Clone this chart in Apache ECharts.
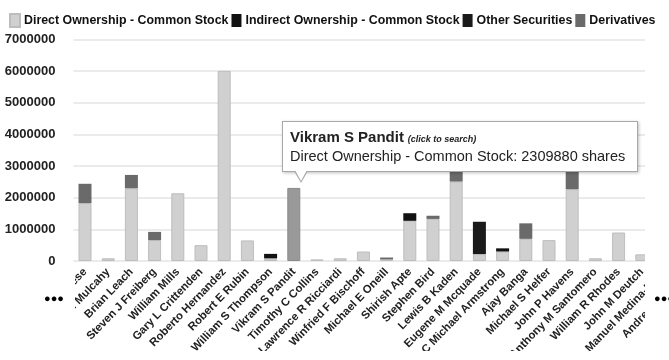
<!DOCTYPE html>
<html>
<head>
<meta charset="utf-8">
<script src="https://cdn.jsdelivr.net/npm/echarts@6/dist/echarts.min.js"></script>
<style>
  html, body { margin: 0; padding: 0; background: #fff; }
  #main { width: 669px; height: 360px; }
</style>
</head>
<body>
<div id="main"></div>
<script>
const insiders = ['James A Forese', 'Anne M Mulcahy', 'Brian Leach', 'Steven J Freiberg', 'William Mills',
    'Gary L Crittenden', 'Roberto Hernandez', 'Robert E Rubin', 'William S Thompson', 'Vikram S Pandit',
    'Timothy C Collins', 'Lawrence R Ricciardi', 'Winfried F Bischoff', 'Michael E Oneill', 'Shirish Apte',
    'Stephen Bird', 'Lewis B Kaden', 'Eugene M Mcquade', 'C Michael Armstrong', 'Ajay Banga',
    'Michael S Helfer', 'John P Havens', 'Anthony M Santomero', 'William R Rhodes', 'John M Deutch',
    'Manuel Medina-Mora', 'Andrew N Liveris'];
const directShares = [1830000, 85000, 2300000, 660000, 2140000, 500000, 6010000, 650000, 85000, 2309880,
    50000, 85000, 300000, 50000, 1270000, 1330000, 2510000, 220000, 300000, 700000,
    660000, 2270000, 85000, 900000, 210000, null, null];
const indirectShares = [0, 0, 0, 0, 0, 0, 0, 0, 140000, 0,
    0, 0, 0, 0, 240000, 0, 0, 0, 100000, 0,
    0, 0, 0, 0, 0, null, null];
const otherShares = [0, 0, 0, 0, 0, 0, 0, 0, 0, 0,
    0, 0, 0, 0, 0, 0, 0, 1020000, 0, 0,
    0, 0, 0, 0, 0, null, null];
const derivativeShares = [610000, 0, 420000, 260000, 0, 0, 0, 0, 0, 0,
    0, 0, 0, 60000, 0, 100000, 400000, 0, 0, 490000,
    0, 650000, 0, 0, 0, null, null];
const yTicks = [0, 1000000, 2000000, 3000000, 4000000, 5000000, 6000000, 7000000];
const hovered = 9;

const chart = echarts.init(document.getElementById('main'));
const font = 'Liberation Sans, Arial, sans-serif';

function barSeries(name, data, color, border, bw) {
    return {
        name: name,
        type: 'bar',
        stack: 'shares',
        barWidth: 13,
        data: data,
        itemStyle: { color: color, borderColor: border, borderWidth: bw },
        emphasis: { focus: 'none', itemStyle: { color: '#999', borderColor: '#8a8a8a' } }
    };
}

chart.setOption({
    animation: false,
    textStyle: { fontFamily: font },
    legend: {
        left: 4,
        top: 8,
        width: 700,
        itemWidth: 10,
        itemHeight: 13,
        itemGap: 3,
        icon: 'rect',
        selectedMode: false,
        textStyle: { fontFamily: font, fontWeight: 'bold', fontSize: 12.4, color: '#111', padding: [0, 0, 0, -1] }
    },
    grid: { left: 73.4, top: 39.5, width: 626.4, height: 221.5, outerBoundsMode: 'none', containLabel: false },
    tooltip: {
        trigger: 'item',
        transitionDuration: 0,
        alwaysShowContent: true,
        backgroundColor: '#fff',
        borderColor: '#a8a8a8',
        borderWidth: 1,
        padding: [6, 12, 6, 7],
        extraCssText: 'border-radius:0;box-shadow:1px 1px 3px rgba(0,0,0,0.25);overflow:visible;',
        formatter: function(p) {
            return '<div style="font-family:' + font + ';color:#222;line-height:17px;white-space:nowrap">' +
                '<span style="font-weight:bold;font-size:15px">' + p.name + '</span> ' +
                '<span style="font-weight:bold;font-style:italic;font-size:9px">(click to search)</span><br>' +
                '<span style="font-size:14.5px">' + p.seriesName + ': ' + p.value + ' shares</span></div>' +
                '<div style="position:absolute;left:11px;bottom:-12px;width:0;height:0;border-left:7px solid transparent;border-right:7px solid transparent;border-top:12px solid #a8a8a8"></div>' +
                '<div style="position:absolute;left:12px;bottom:-10px;width:0;height:0;border-left:6px solid transparent;border-right:6px solid transparent;border-top:11px solid #fff"></div>';
        },
        position: function(point, params, dom, rect, size) {
            const top = Math.min(rect.y, rect.y + rect.height);
            return [rect.x + rect.width / 2 - 12, top - 16 - size.contentSize[1]];
        }
    },
    xAxis: {
        type: 'category',
        data: insiders,
        axisLine: { show: false },
        axisTick: { show: false },
        axisLabel: {
            interval: 0,
            rotate: 46,
            margin: 9,
            hideOverlap: false,
            fontFamily: font,
            fontWeight: 'bold',
            fontSize: 11.3,
            color: '#222'
        }
    },
    yAxis: {
        type: 'value',
        min: 0,
        max: 7000000,
        interval: 1000000,
        axisLine: { show: false },
        axisTick: { show: false },
        splitLine: { lineStyle: { color: '#e4e4e4', width: 1.5 } },
        axisLabel: {
            margin: 18,
            fontFamily: font,
            fontWeight: 'bold',
            fontSize: 13,
            color: '#222',
            formatter: function(v) {
                return yTicks.indexOf(v) >= 0 ? String(v) : '';
            }
        }
    },
    series: [
        barSeries('Direct Ownership - Common Stock', directShares, '#d0d0d0', '#bdbdbd', 1),
        barSeries('Indirect Ownership - Common Stock', indirectShares, '#111', '#111', 0),
        barSeries('Other Securities', otherShares, '#1a1a1a', '#1a1a1a', 0),
        barSeries('Derivatives', derivativeShares, '#6a6a6a', '#606060', 0)
    ],
    graphic: [
        // scroll viewport masks
        { type: 'rect', z: 50, shape: { x: 645, y: 34, width: 40, height: 330 }, style: { fill: '#fff' } },
        { type: 'rect', z: 50, shape: { x: 0, y: 268, width: 75, height: 100 }, style: { fill: '#fff' } },
        { type: 'rect', z: 50, shape: { x: 0, y: 351, width: 669, height: 20 }, style: { fill: '#fff' } },
        { type: 'text', z: 60, left: 44, top: 293, style: { text: '●●●', font: 'bold 11px ' + font, fill: '#000' } },
        { type: 'text', z: 60, left: 654, top: 293, style: { text: '●●●', font: 'bold 11px ' + font, fill: '#000' } }
    ]
});

chart.dispatchAction({ type: 'highlight', seriesIndex: 0, dataIndex: hovered });
chart.dispatchAction({ type: 'showTip', seriesIndex: 0, dataIndex: hovered });

window.addEventListener('resize', () => {
    chart.resize();
});
</script>
</body>
</html>
